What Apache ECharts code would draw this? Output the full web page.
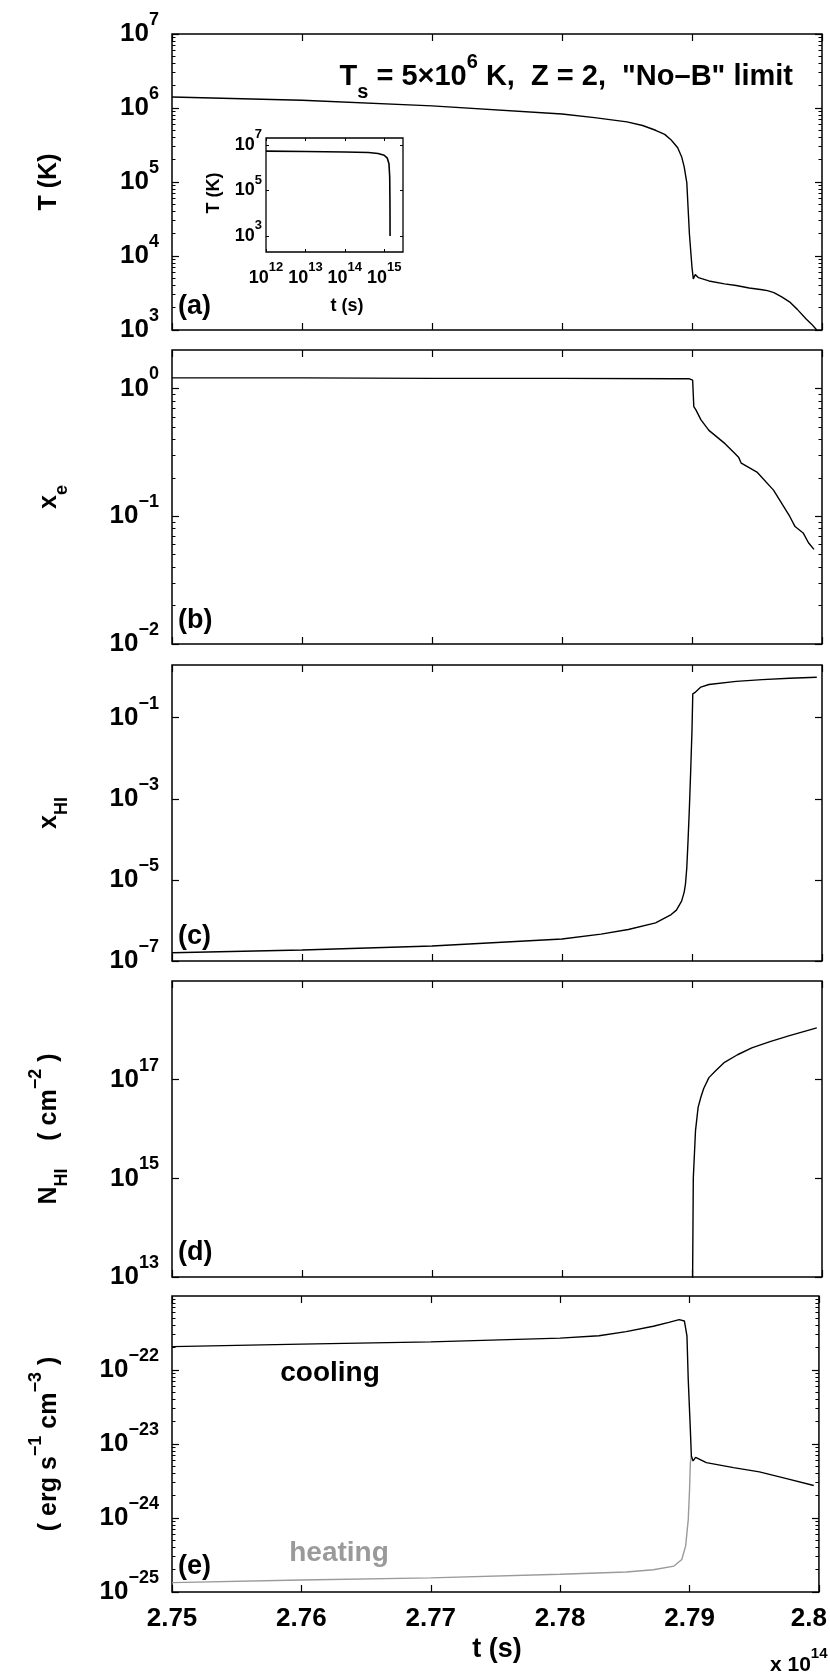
<!DOCTYPE html>
<html>
<head>
<meta charset="utf-8">
<script src="https://cdn.jsdelivr.net/npm/echarts@6.0.0/dist/echarts.min.js"></script>
<style>
html,body{margin:0;padding:0;background:#ffffff;}
#chart{width:830px;height:1678px;}
</style>
</head>
<body>
<div id="chart"></div>
<script>
// ---------------- DATA (time in units of 1e14 s) ----------------
const xTicks = [2.75, 2.76, 2.77, 2.78, 2.79, 2.8];

// (a) temperature T (K)
const tA = [2.75, 2.76, 2.77, 2.78, 2.7825, 2.785, 2.7862, 2.7872, 2.7879, 2.7884, 2.7889, 2.7892, 2.7894, 2.7896, 2.7898, 2.7900, 2.79010, 2.79025, 2.7905, 2.7913, 2.7925, 2.7934, 2.7944, 2.7954, 2.7958, 2.7963, 2.7969, 2.7975, 2.7981, 2.7988, 2.7992, 2.7996];
const TA = [1.41e6, 1.27e6, 1.07e6, 8.3e5, 7.4e5, 6.5e5, 5.8e5, 5.0e5, 4.4e5, 3.7e5, 2.9e5, 2.2e5, 1.6e5, 9.8e4, 2.0e4, 7.0e3, 4.9e3, 5.6e3, 5.1e3, 4.6e3, 4.2e3, 4.0e3, 3.7e3, 3.5e3, 3.4e3, 3.2e3, 2.8e3, 2.4e3, 1.9e3, 1.4e3, 1.2e3, 1.0e3];

// (b) electron fraction x_e
const tB = [2.75, 2.76, 2.77, 2.78, 2.789, 2.7898, 2.79005, 2.79014, 2.7903, 2.79068, 2.7913, 2.79254, 2.7933, 2.79358, 2.79379, 2.79503, 2.79627, 2.79751, 2.79793, 2.79855, 2.79896, 2.79938];
const xeB = [1.21, 1.21, 1.20, 1.20, 1.19, 1.19, 1.16, 0.72, 0.68, 0.57, 0.47, 0.37, 0.31, 0.29, 0.26, 0.22, 0.16, 0.10, 0.083, 0.074, 0.062, 0.055];

// (c) neutral fraction x_HI
const tC = [2.75, 2.76, 2.77, 2.78, 2.783, 2.7851, 2.7872, 2.7884, 2.7888, 2.7892, 2.7894, 2.7895, 2.7896, 2.7897, 2.7898, 2.7899, 2.79, 2.79006, 2.79027, 2.79068, 2.7913, 2.7934, 2.7954, 2.7975, 2.7996];
const xhC = [1.6e-7, 1.86e-7, 2.34e-7, 3.5e-7, 4.6e-7, 6.0e-7, 8.7e-7, 1.4e-6, 1.8e-6, 3.0e-6, 5.0e-6, 8.0e-6, 2.0e-5, 1.0e-4, 6.0e-4, 5.0e-3, 0.05, 0.39, 0.43, 0.57, 0.66, 0.79, 0.87, 0.94, 1.0];

// (d) column density N_HI (cm^-2)
const tD = [2.79002, 2.7901, 2.79027, 2.79047, 2.79068, 2.7909, 2.7913, 2.7918, 2.7925, 2.7935, 2.7946, 2.796, 2.7975, 2.7996];
const nD = [1e12, 1e15, 9.3e15, 2.75e16, 4.4e16, 6.6e16, 1.1e17, 1.5e17, 2.25e17, 3.2e17, 4.4e17, 5.9e17, 7.8e17, 1.12e18];

// (e) cooling and heating rates (erg s^-1 cm^-3)
const tCool = [2.75, 2.76, 2.77, 2.78, 2.783, 2.7851, 2.7872, 2.7884, 2.7892, 2.7896, 2.7898, 2.7899, 2.79006, 2.79014, 2.79027, 2.79047, 2.7913, 2.7934, 2.7954, 2.7975, 2.7996];
const cool = [2.07e-22, 2.24e-22, 2.4e-22, 2.7e-22, 2.9e-22, 3.3e-22, 3.9e-22, 4.4e-22, 4.8e-22, 4.6e-22, 2.9e-22, 7.4e-23, 1.6e-23, 6.9e-24, 5.9e-24, 6.6e-24, 5.6e-24, 4.8e-24, 4.2e-24, 3.4e-24, 2.75e-24];
const tHeat = [2.75, 2.76, 2.77, 2.78, 2.7851, 2.7872, 2.7888, 2.7894, 2.7897, 2.7899, 2.79, 2.79006, 2.79014];
const heat = [1.34e-25, 1.45e-25, 1.55e-25, 1.74e-25, 1.86e-25, 2.0e-25, 2.24e-25, 2.75e-25, 4.2e-25, 9.5e-25, 2.4e-24, 5.5e-24, 6.9e-24];

// inset: T (K) vs t (s), log-log
const tIn = [1e12, 1e13, 1e14, 4e14, 7e14, 1e15, 1.2e15, 1.32e15, 1.38e15, 1.4e15, 1.41e15];
const TIn = [5.3e6, 5.1e6, 4.9e6, 4.6e6, 4.2e6, 3.5e6, 2.6e6, 1.5e6, 4e5, 3e4, 1e3];

// tick label values
const yTicksA = [1e3, 1e4, 1e5, 1e6, 1e7];
const yTicksB = [1e-2, 1e-1, 1e0];
const yTicksC = [1e-7, 1e-5, 1e-3, 1e-1];
const yTicksD = [1e13, 1e15, 1e17];
const yTicksE = [1e-25, 1e-24, 1e-23, 1e-22];
const inXTicks = [1e12, 1e13, 1e14, 1e15];
const inYTicks = [1e3, 1e5, 1e7];

// ---------------- CHART ----------------
const FF = '"Liberation Sans", Arial, Helvetica, sans-serif';
const chart = echarts.init(document.getElementById('chart'), null, {renderer: 'canvas'});

function pairs(xs, ys, unit) { return xs.map((x, i) => [x, ys[i] / unit]); }
function expStr(e) { return e < 0 ? '\u2212' + (-e) : String(e); }
function powLabelFn(unitExp) {
  return v => '{b|10}{s|' + expStr(Math.round(Math.log10(v)) + unitExp) + '}';
}
function minorVals(min, max) {
  const out = [];
  for (let e = Math.floor(Math.log10(min)); e <= Math.ceil(Math.log10(max)); e++) {
    for (let k = 2; k <= 9; k++) { const v = k * Math.pow(10, e); if (v > min && v < max) out.push(v); }
  }
  return out;
}

const richMain = {
  b: {fontSize: 26, fontWeight: 'bold', fontFamily: FF, color: '#000', lineHeight: 46, verticalAlign: 'middle'},
  s: {fontSize: 18, fontWeight: 'bold', fontFamily: FF, color: '#000', lineHeight: 18, verticalAlign: 'top'}
};
const richInset = {
  b: {fontSize: 18, fontWeight: 'bold', fontFamily: FF, color: '#000', lineHeight: 34, verticalAlign: 'middle'},
  s: {fontSize: 13, fontWeight: 'bold', fontFamily: FF, color: '#000', lineHeight: 13, verticalAlign: 'top'}
};

const L = 172, W = 650;
// unitExp: display unit of the panel (values divided by 10^unitExp before plotting)
const PANELS = [
  {top: 34,   height: 296, min: 1e3,  max: 1e7,  ticks: yTicksA, minor: true,  unitExp: 0},
  {top: 350,  height: 294, min: 1e-2, max: 2,    ticks: yTicksB, minor: true,  unitExp: 0},
  {top: 665,  height: 296, min: 1e-7, max: 2,    ticks: yTicksC, minor: false, unitExp: 0},
  {top: 981,  height: 296, min: 1e13, max: 1e19, ticks: yTicksD, minor: false, unitExp: 0},
  {top: 1296, height: 296, min: 1e-25, max: 1e-21, ticks: yTicksE, minor: true, unitExp: -25}
];
const SERIES = [
  [{t: tA, v: TA, color: '#000'}],
  [{t: tB, v: xeB, color: '#000'}],
  [{t: tC, v: xhC, color: '#000'}],
  [{t: tD, v: nD, color: '#000'}],
  [{t: tHeat, v: heat, color: '#9a9a9a'}, {t: tCool, v: cool, color: '#000'}]
];

const tickStyle = {show: true, inside: true, length: 7, lineStyle: {color: '#000', width: 1.2}};
const grids = [], xAxes = [], yAxes = [], series = [];

function xLabelFmt(v) {
  const s = String(Math.round(v * 100) / 100);
  return v >= xTicks[xTicks.length - 1] - 1e-9 ? '{r|' + s + '}' : s;
}

PANELS.forEach((p, i) => {
  const u = Math.pow(10, p.unitExp);
  const mn = p.min / u, mx = p.max / u;
  const tk = p.ticks.map(v => v / u);
  grids.push({left: L, width: W, top: p.top, height: p.height, show: true,
    borderColor: '#000', borderWidth: 1.5, backgroundColor: 'transparent'});
  const isLast = i === PANELS.length - 1;
  xAxes.push({gridIndex: i, type: 'value', position: 'bottom', min: xTicks[0], max: xTicks[xTicks.length - 1],
    axisLine: {show: false}, splitLine: {show: false},
    axisTick: Object.assign({}, tickStyle, {customValues: xTicks}),
    axisLabel: {show: isLast, customValues: xTicks, margin: 14, color: '#000', fontSize: 26, fontWeight: 'bold',
      fontFamily: FF, formatter: xLabelFmt,
      rich: {r: {fontSize: 26, fontWeight: 'bold', fontFamily: FF, color: '#000', padding: [0, 20, 0, 0]}}}});
  xAxes.push({gridIndex: i, type: 'value', position: 'top', min: xTicks[0], max: xTicks[xTicks.length - 1],
    axisLine: {show: false}, splitLine: {show: false},
    axisTick: Object.assign({}, tickStyle, {customValues: xTicks}), axisLabel: {show: false}});
  yAxes.push({gridIndex: i, type: 'log', logBase: 10, position: 'left', min: mn, max: mx,
    axisLine: {show: false}, splitLine: {show: false},
    axisTick: Object.assign({}, tickStyle, {customValues: tk}),
    axisLabel: {customValues: tk, margin: 13, formatter: powLabelFn(p.unitExp), rich: richMain}});
  yAxes.push({gridIndex: i, type: 'log', logBase: 10, position: 'right', min: mn, max: mx,
    axisLine: {show: false}, splitLine: {show: false},
    axisTick: Object.assign({}, tickStyle, {customValues: tk}), axisLabel: {show: false}});
});
PANELS.forEach((p, i) => {
  if (!p.minor) return;
  const u = Math.pow(10, p.unitExp);
  ['left', 'right'].forEach(pos => {
    yAxes.push({gridIndex: i, type: 'log', logBase: 10, position: pos, min: p.min / u, max: p.max / u,
      axisLine: {show: false}, splitLine: {show: false}, axisLabel: {show: false},
      axisTick: {show: true, inside: true, length: 3.5, lineStyle: {color: '#000', width: 1},
        customValues: minorVals(p.min / u, p.max / u)}});
  });
});
SERIES.forEach((list, i) => {
  const u = Math.pow(10, PANELS[i].unitExp);
  list.forEach(s => {
    series.push({type: 'line', xAxisIndex: 2 * i, yAxisIndex: 2 * i, data: pairs(s.t, s.v, u),
      showSymbol: false, symbol: 'none', clip: true, silent: true,
      lineStyle: {color: s.color, width: 1.4}});
  });
});

// inset
const gIn = grids.length;
grids.push({left: 266, top: 138, width: 137, height: 114, show: true, borderColor: '#000', borderWidth: 1.3,
  backgroundColor: '#fff'});
const inTick = {show: true, inside: true, length: 3, lineStyle: {color: '#000', width: 1}};
const xIn = xAxes.length;
xAxes.push({gridIndex: gIn, type: 'log', logBase: 10, position: 'bottom', min: 1e12, max: 3e15,
  axisLine: {show: false}, splitLine: {show: false},
  axisTick: Object.assign({}, inTick, {customValues: inXTicks}),
  axisLabel: {customValues: inXTicks, margin: 9, formatter: powLabelFn(0), rich: richInset}});
xAxes.push({gridIndex: gIn, type: 'log', logBase: 10, position: 'top', min: 1e12, max: 3e15,
  axisLine: {show: false}, splitLine: {show: false},
  axisTick: Object.assign({}, inTick, {customValues: inXTicks}), axisLabel: {show: false}});
const yIn = yAxes.length;
yAxes.push({gridIndex: gIn, type: 'log', logBase: 10, position: 'left', min: 2e2, max: 2e7,
  axisLine: {show: false}, splitLine: {show: false},
  axisTick: Object.assign({}, inTick, {customValues: inYTicks}),
  axisLabel: {customValues: inYTicks, margin: 4, formatter: powLabelFn(0), rich: richInset}});
yAxes.push({gridIndex: gIn, type: 'log', logBase: 10, position: 'right', min: 2e2, max: 2e7,
  axisLine: {show: false}, splitLine: {show: false},
  axisTick: Object.assign({}, inTick, {customValues: inYTicks}), axisLabel: {show: false}});
series.push({type: 'line', xAxisIndex: xIn, yAxisIndex: yIn, data: pairs(tIn, TIn, 1), showSymbol: false,
  symbol: 'none', clip: true, silent: true, z: 5, lineStyle: {color: '#000', width: 1.6}});

// ---------------- TEXT ----------------
const T = {fontWeight: 'bold', fontFamily: FF, fill: '#000'};
function txt(x, y, text, opts) {
  return {type: 'text', x: x, y: y, silent: true, z: 50,
    style: Object.assign({text: text, align: 'center', verticalAlign: 'middle', fontSize: 27}, T, opts || {})};
}
function richSet(base, small, lh) {
  return {
    t: {fontSize: base, fontWeight: 'bold', fontFamily: FF, fill: '#000', lineHeight: lh, verticalAlign: 'middle'},
    p: {fontSize: small, fontWeight: 'bold', fontFamily: FF, fill: '#000', lineHeight: small, verticalAlign: 'top'},
    d: {fontSize: small, fontWeight: 'bold', fontFamily: FF, fill: '#000', lineHeight: small, verticalAlign: 'bottom'}
  };
}
function vtxt(x, y, text, rich) {
  return {type: 'text', x: x, y: y, rotation: Math.PI / 2, silent: true, z: 50,
    style: Object.assign({text: text, align: 'center', verticalAlign: 'middle', rich: rich}, T)};
}
const richTitle = richSet(29, 20, 50);
const richYT = richSet(25, 18, 44);

const graphics = [
  {type: 'text', x: 793, y: 77, silent: true, z: 50,
    style: Object.assign({text: '{t|T}{d|s}{t| = 5\u00d710}{p|6}{t| K,  Z = 2,  "No\u2013B" limit}',
      align: 'right', verticalAlign: 'middle', rich: richTitle}, T)},
  vtxt(49, 182, '{t|T (K)}', richYT),
  vtxt(49, 497, '{t|x}{d|e}', richYT),
  vtxt(49, 813, '{t|x}{d|HI}', richYT),
  vtxt(49, 1129, '{t|N}{d|HI}{t|    ( cm}{p|\u22122}{t| )}', richYT),
  vtxt(49, 1444, '{t|( erg s}{p|\u22121}{t| cm}{p|\u22123}{t| )}', richYT),
  txt(178, 307, '(a)', {align: 'left'}),
  txt(178, 621, '(b)', {align: 'left'}),
  txt(178, 937, '(c)', {align: 'left'}),
  txt(178, 1253, '(d)', {align: 'left'}),
  txt(178, 1567, '(e)', {align: 'left'}),
  txt(330, 1373, 'cooling', {fontSize: 28}),
  txt(339, 1553, 'heating', {fontSize: 28, fill: '#9a9a9a'}),
  txt(497, 1650, 't (s)', {fontSize: 27}),
  {type: 'text', x: 770, y: 1665, silent: true, z: 50,
    style: Object.assign({text: '{t|x 10}{p|14}', align: 'left', verticalAlign: 'middle', rich: richSet(21, 15, 38)}, T)},
  {type: 'text', x: 214, y: 193, rotation: Math.PI / 2, silent: true, z: 50,
    style: Object.assign({text: 'T (K)', align: 'center', verticalAlign: 'middle', fontSize: 18}, T)},
  txt(347, 306, 't (s)', {fontSize: 18})
];

chart.setOption({
  animation: false,
  backgroundColor: '#fff',
  textStyle: {fontFamily: FF},
  grid: grids,
  xAxis: xAxes,
  yAxis: yAxes,
  series: series,
  graphic: graphics
});
</script>
</body>
</html>
